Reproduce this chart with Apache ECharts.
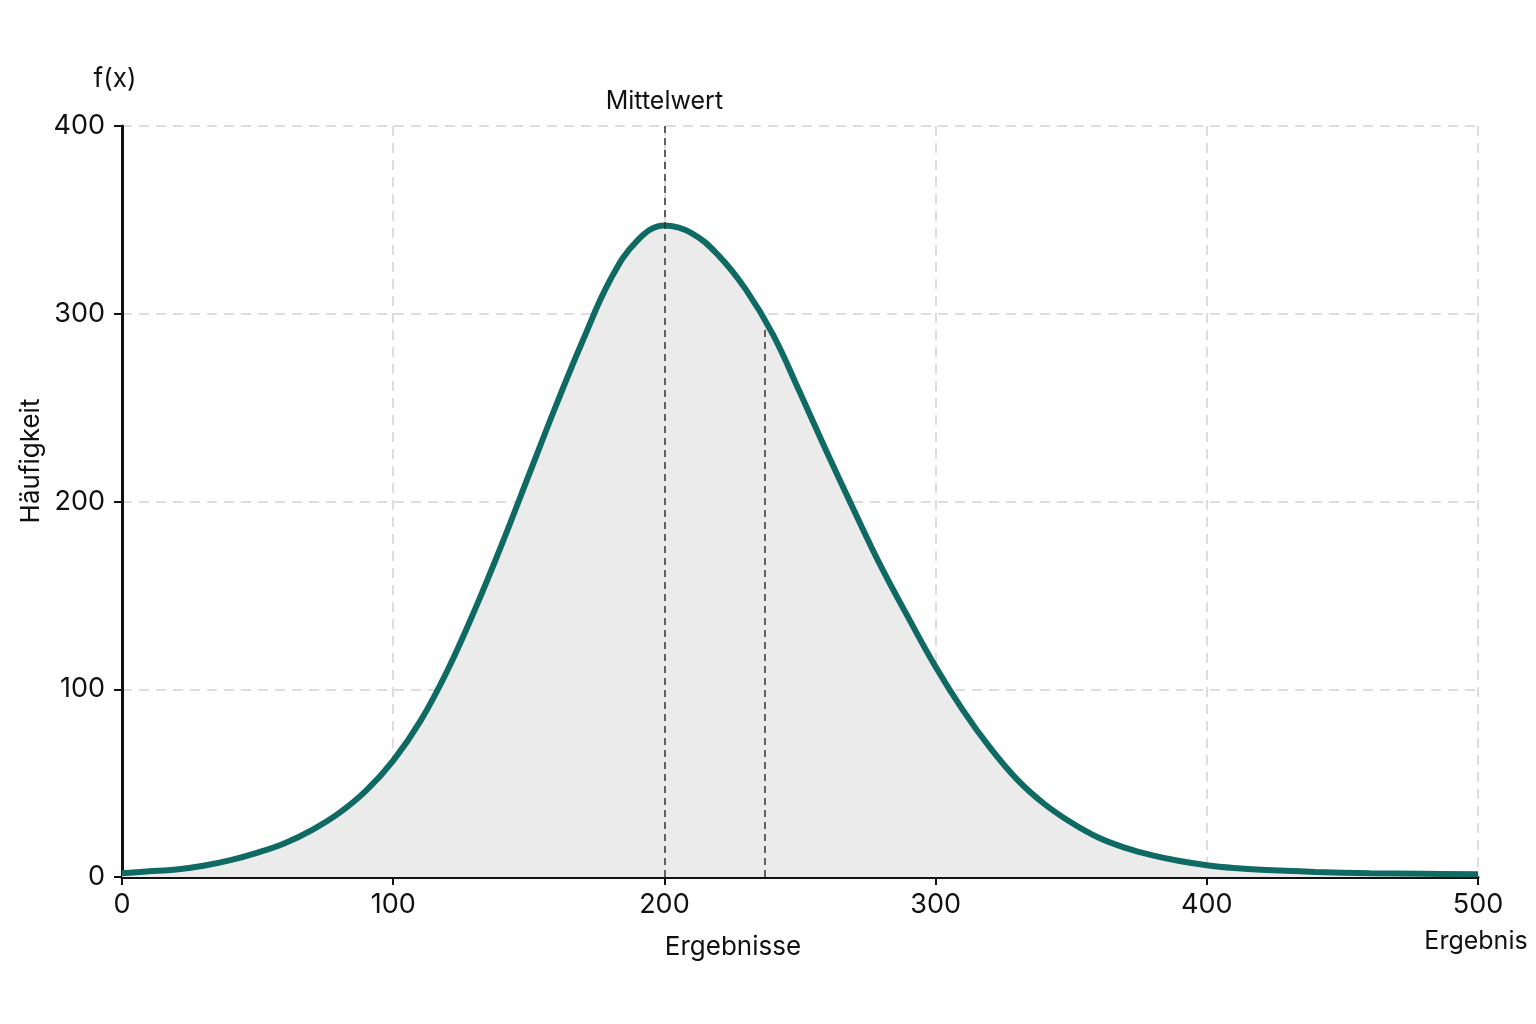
<!DOCTYPE html>
<html>
<head>
<meta charset="utf-8">
<script src="https://cdn.jsdelivr.net/npm/echarts@6/dist/echarts.min.js"></script>
<style>
  html, body { margin: 0; padding: 0; background: #fff; }
  #main { width: 1536px; height: 1024px; }
</style>
</head>
<body>
<div id="main"></div>
<script>
// Ergebnisse (x) und Häufigkeit (y)
var xWerte = [0, 10, 20, 30, 40, 50, 60, 70, 80, 90, 100, 110, 120, 130, 140, 150, 160, 170, 180, 190,
              200, 210, 220, 230, 240, 250, 260, 270, 280, 290, 300, 310, 320, 330, 340, 350, 360, 370, 380, 390,
              400, 410, 420, 440, 460, 480, 500];
var yWerte = [2, 3, 4, 6, 9, 13, 18, 25, 34, 46, 62, 83, 110, 142, 177, 214, 251, 286, 318, 339,
              347, 343, 331, 313, 289, 258, 226, 195, 165, 138, 112, 89, 69, 52, 39, 29, 21, 15.5, 11.5, 8.5,
              6.3, 4.8, 3.8, 2.7, 2, 1.7, 1.5];
var mittelwert = 200;
var zweiteLinie = [237, 292];   // x, Höhe bis zur Kurve
var xTicks = [0, 100, 200, 300, 400, 500];
var yTicks = [0, 100, 200, 300, 400];

var punkte = xWerte.map(function (x, i) { return [x, yWerte[i]]; });

var chart = echarts.init(document.getElementById('main'));
var schrift = 'Inter, "Noto Sans", sans-serif';

var option = {
    backgroundColor: '#ffffff',
    animation: false,
    grid: { left: 122, right: 58, top: 126, bottom: 147, containLabel: false, outerBoundsMode: 'none' },
    xAxis: {
        type: 'value',
        min: xTicks[0],
        max: xTicks[xTicks.length - 1],
        interval: 100,
        axisLine: { lineStyle: { color: '#111', width: 3 } },
        axisTick: { show: true, length: 8, lineStyle: { color: '#111', width: 2 } },
        axisLabel: { color: '#111', fontSize: 27, fontFamily: schrift, margin: 14 },
        splitLine: { show: true, lineStyle: { color: '#d2d2d2', width: 1.5, type: [10, 7] } }
    },
    yAxis: {
        type: 'value',
        min: yTicks[0],
        max: yTicks[yTicks.length - 1],
        interval: 100,
        axisLine: { show: true, lineStyle: { color: '#111', width: 3 } },
        axisTick: { show: true, length: 8, lineStyle: { color: '#111', width: 2 } },
        axisLabel: { color: '#111', fontSize: 27, fontFamily: schrift, margin: 17 },
        splitLine: { show: true, lineStyle: { color: '#d2d2d2', width: 1.5, type: [10, 7] } }
    },
    graphic: [
        { type: 'text', x: 115, y: 79, style: { text: 'f(x)', fontSize: 26, fontFamily: schrift, fill: '#111', align: 'center', verticalAlign: 'middle' } },
        { type: 'text', x: 31, y: 461, rotation: Math.PI / 2, style: { text: 'Häufigkeit', fontSize: 26, fontFamily: schrift, fill: '#111', align: 'center', verticalAlign: 'middle' } },
        { type: 'text', x: 733, y: 947, style: { text: 'Ergebnisse', fontSize: 26, fontFamily: schrift, fill: '#111', align: 'center', verticalAlign: 'middle' } },
        { type: 'text', x: 1476, y: 941, style: { text: 'Ergebnis', fontSize: 25, fontFamily: schrift, fill: '#111', align: 'center', verticalAlign: 'middle' } }
    ],
    series: [
        {
            // Fläche unter der Kurve + Markierungslinien
            type: 'line',
            data: punkte,
            smooth: 0.4,
            symbol: 'none',
            z: 2,
            lineStyle: { width: 0 },
            areaStyle: { color: '#ebebeb', opacity: 1 },
            markLine: {
                silent: true,
                symbol: 'none',
                data: [
                    [
                        { coord: [mittelwert, 0], lineStyle: { color: '#333', width: 1.5, type: [7, 5] } },
                        { coord: [mittelwert, yTicks[yTicks.length - 1]],
                          label: { show: true, position: 'end', formatter: 'Mittelwert', color: '#111', fontSize: 25, fontFamily: schrift, distance: 12 } }
                    ],
                    [
                        { coord: [zweiteLinie[0], 0], lineStyle: { color: '#333', width: 1.5, type: [7, 5] } },
                        { coord: [zweiteLinie[0], zweiteLinie[1]], label: { show: false } }
                    ]
                ]
            }
        },
        {
            // Kurve
            type: 'line',
            data: punkte,
            smooth: 0.4,
            symbol: 'none',
            z: 3,
            lineStyle: { color: '#0e6a62', width: 6 }
        }
    ]
};

chart.setOption(option);
</script>
</body>
</html>
